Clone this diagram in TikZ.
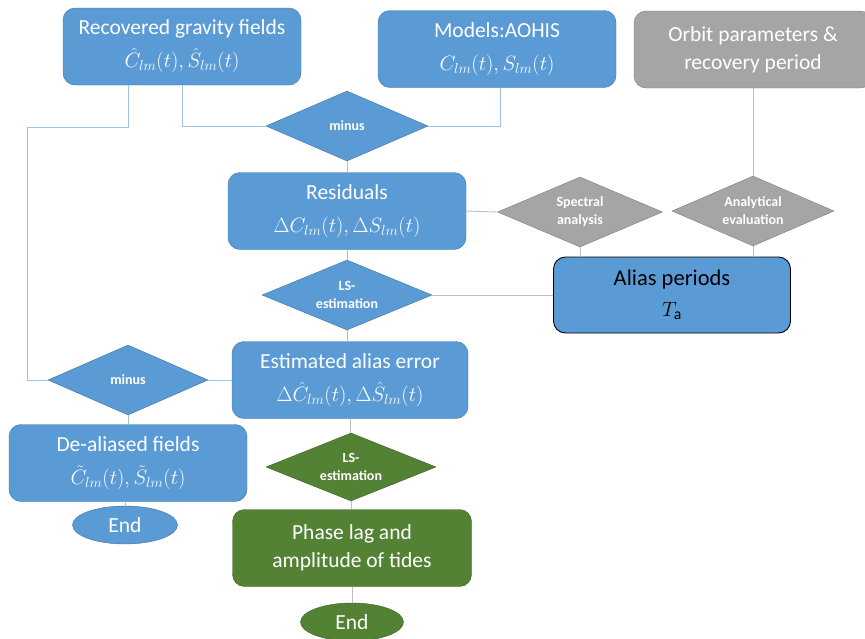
\documentclass[tikz,border=0pt]{standalone}
\usepackage{fontspec}
\setmainfont{Carlito}
\usepackage{amsmath}
\usetikzlibrary{shapes.geometric,positioning}

\definecolor{boxblue}{HTML}{5B9BD5}
\definecolor{edgeblue}{HTML}{41719C}
\definecolor{lineblue}{HTML}{9DC3E6}
\definecolor{boxgreen}{HTML}{548235}
\definecolor{edgegreen}{HTML}{3B5E26}
\definecolor{boxgray}{HTML}{A5A5A5}
\definecolor{edgegray}{HTML}{7C7C7C}
\definecolor{linegray}{HTML}{BFBFBF}

\begin{document}
\begin{tikzpicture}[x=1pt,y=-1pt,
  fieldbox/.style={rectangle,rounded corners=12pt,draw=edgeblue,fill=boxblue,text=white,
    align=center,minimum width=238pt,minimum height=77pt,inner sep=2pt,
    font=\fontsize{21.5}{28}\selectfont},
  greenbox/.style={fieldbox,draw=edgegreen,fill=boxgreen},
  graybox/.style={fieldbox,draw=edgegray,fill=boxgray},
  decide/.style={diamond,shape aspect=2.4,inner sep=0pt,draw=edgeblue,fill=boxblue,text=white,
    align=center,minimum width=162pt,minimum height=70pt,
    font=\fontsize{14}{18}\selectfont\bfseries},
  greendecide/.style={decide,draw=edgegreen,fill=boxgreen},
  graydecide/.style={decide,draw=edgegray,fill=boxgray},
  stop/.style={ellipse,draw=edgeblue,fill=boxblue,text=white,inner sep=0pt,
    minimum width=105pt,minimum height=38pt,font=\fontsize{21.5}{26}\selectfont},
  blueline/.style={draw=lineblue,line width=0.9pt},
  grayline/.style={draw=linegray,line width=0.9pt}]
  \useasboundingbox (0,0) rectangle (865,638);

  % top row
  \node[fieldbox] (rec) at (182,46.5) {Recovered gravity fields\\[5pt]$\hat{C}_{lm}(t),\hat{S}_{lm}(t)$};
  \node[fieldbox] (mod) at (497,49) {Models:AOHIS\\[5pt]$C_{lm}(t),S_{lm}(t)$};
  \node[graybox] (orbit) at (753,49.5) {Orbit parameters \&\\recovery period};

  % middle
  \node[decide] (minusA) at (347,126) {minus};
  \node[fieldbox] (res) at (347,211) {Residuals\\[5pt]$\Delta C_{lm}(t),\Delta S_{lm}(t)$};
  \node[graydecide,minimum width=165pt] (spec) at (580,212) {Spectral\\analysis};
  \node[graydecide] (ana) at (753,211) {Analytical\\evaluation};
  \node[decide,minimum width=170pt] (lsA) at (347,295) {LS-\\estimation};
  \node[fieldbox,draw=black,text=black,line width=0.9pt,minimum width=237pt,minimum height=76pt,
    font=\fontsize{22.5}{28}\selectfont] (alias) at (672,295) {Alias periods\\[3pt]$T_{\mathrm{a}}$};
  \node[fieldbox,minimum width=236pt] (est) at (350,380) {Estimated alias error\\[5pt]$\Delta\hat{C}_{lm}(t),\Delta\hat{S}_{lm}(t)$};
  \node[decide,minimum width=160pt] (minusB) at (128,380) {minus};

  % bottom
  \node[fieldbox] (dea) at (128,463) {De-aliased fields\\[5pt]$\tilde{C}_{lm}(t),\tilde{S}_{lm}(t)$};
  \node[stop] (endA) at (125,525) {End};
  \node[greendecide,minimum width=170pt,minimum height=68pt] (lsB) at (351,467) {LS-\\estimation};
  \node[greenbox,minimum width=239pt] (phase) at (352,548) {Phase lag and\\amplitude of tides};
  \node[stop,draw=edgegreen,fill=boxgreen,minimum width=103pt] (endB) at (352,622) {End};

  \coordinate (bypass) at (27,127);

  % connectors
  \draw[blueline] (rec.south) |- (minusA.west);
  \draw[blueline] ([xshift=-54pt]rec.south) |- (bypass) |- (minusB.west);
  \draw[blueline] ([xshift=3pt]mod.south) |- (minusA.east);
  \draw[blueline] (minusA.south) -- (res.north);
  \draw[blueline] (res.south) -- (lsA.north);
  \draw[blueline] (lsA.south) -- (lsA.south |- est.north);
  \draw[blueline] (est.west) -- (minusB.east);
  \draw[blueline] (minusB.south) -- (dea.north);
  \draw[blueline] (dea.south -| endA.north) -- (endA.north);
  \draw[grayline] (lsA.east) -- (alias.west);
  \draw[grayline] (res.east) -- (spec.west);
  \draw[grayline] (spec.south) -- (spec.south |- alias.north);
  \draw[grayline] (orbit.south) -- (ana.north);
  \draw[grayline] (ana.south) -- (ana.south |- alias.north);
  \draw[grayline] (est.south) -- (est.south |- lsB.north);
  \draw[grayline] (lsB.south) -- (lsB.south |- phase.north);
  \draw[grayline] (phase.south) -- (endB.north);
\end{tikzpicture}
\end{document}
